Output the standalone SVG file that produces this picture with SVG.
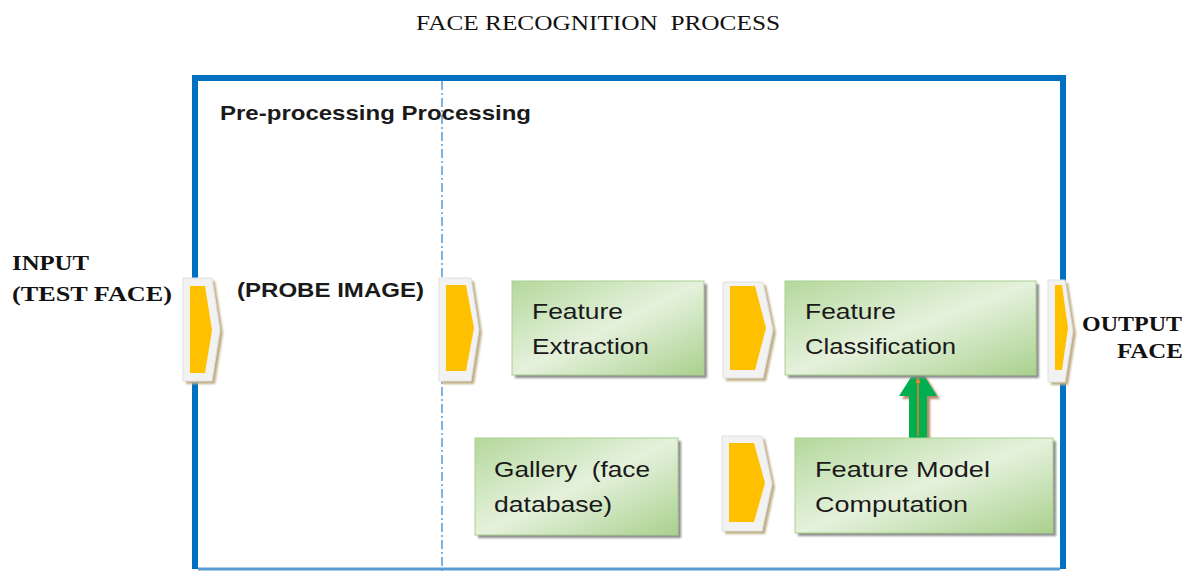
<svg xmlns="http://www.w3.org/2000/svg" width="1185" height="572" viewBox="0 0 1185 572">
<defs>
<linearGradient id="g" x1="0" y1="0" x2="1" y2="1">
<stop offset="0" stop-color="#B4D89C"/>
<stop offset="0.5" stop-color="#E5F1DC"/>
<stop offset="1" stop-color="#A9D18E"/>
</linearGradient>
<filter id="sh" x="-10%" y="-10%" width="130%" height="130%">
<feGaussianBlur stdDeviation="1"/>
</filter>
<style>
text{white-space:pre}
.box{fill:url(#g);stroke:#A9D08E;stroke-width:1}
.bsh{fill:#8C8C8C;filter:url(#sh)}
.cout{fill:#F2F2F2;stroke:#E0E0E0;stroke-width:1}
.csh{fill:#BFAE85;filter:url(#sh)}
.cin{fill:#FFC000}
.lbl{font-family:"Liberation Sans",Arial,sans-serif;font-size:22px;fill:#1a1a1a}
.bold{font-family:"Liberation Sans",Arial,sans-serif;font-size:21px;font-weight:bold;fill:#1a1a1a}
.ser{font-family:"Liberation Serif","Times New Roman",serif;font-size:21px;font-weight:bold;fill:#111}
</style>
</defs>
<rect width="1185" height="572" fill="#fff"/>
<text x="598" y="30" text-anchor="middle" font-family="Liberation Serif,serif" font-size="20" fill="#111" textLength="364" lengthAdjust="spacingAndGlyphs">FACE RECOGNITION  PROCESS</text>

<g id="frame">
<path d="M195,569 V78 H1063 V569" fill="none" stroke="#0070C0" stroke-width="6"/>
<line x1="198" y1="569" x2="1060" y2="569" stroke="#5B9BD5" stroke-width="3"/>
<line x1="442" y1="81" x2="442" y2="572" stroke="#5B9BD5" stroke-width="1.5" stroke-dasharray="9,3,2,3"/>
<text x="220" y="120" class="bold" textLength="311" lengthAdjust="spacingAndGlyphs">Pre-processing Processing</text>
</g>

<g id="input">
<text x="12" y="270" class="ser" textLength="77" lengthAdjust="spacingAndGlyphs">INPUT</text>
<text x="12" y="301" class="ser" textLength="160" lengthAdjust="spacingAndGlyphs">(TEST FACE)</text>
</g>
<g id="probe">
<text x="237" y="297" class="bold" textLength="187" lengthAdjust="spacingAndGlyphs">(PROBE IMAGE)</text>
</g>
<g id="output">
<text x="1182" y="331" text-anchor="end" class="ser" textLength="100" lengthAdjust="spacingAndGlyphs">OUTPUT</text>
<text x="1183" y="358" text-anchor="end" class="ser" textLength="66" lengthAdjust="spacingAndGlyphs">FACE</text>
</g>

<g id="connectors">
<g id="chev1">
<polygon class="csh" points="186,281 215,281 223,333 215,384 186,384"/>
<polygon class="cout" points="183,278 212,278 220,330 212,381 183,381"/>
<polygon class="cin" points="190,286 205,286 212,330 205,373 190,373"/>
</g>
<g id="chev2">
<polygon class="csh" points="442,281 474,281 482,333 474,384 442,384"/>
<polygon class="cout" points="439,278 471,278 479,330 471,381 439,381"/>
<polygon class="cin" points="446,285 466,285 474,328 466,371 446,371"/>
</g>
<g id="chev3">
<polygon class="csh" points="726,285 766,285 776,333 766,381 726,381"/>
<polygon class="cout" points="723,282 763,282 773,330 763,378 723,378"/>
<polygon class="cin" points="730,286 755,286 766,328 755,370 730,370"/>
</g>
<g id="chev4">
<polygon class="csh" points="1051,283 1068,283 1076,334 1068,385 1051,385"/>
<polygon class="cout" points="1048,280 1065,280 1073,331 1065,382 1048,382"/>
<polygon class="cin" points="1055,285 1062,285 1068,328 1062,370 1055,370"/>
</g>
<g id="chev5">
<polygon class="csh" points="725,439 765,439 775,487 765,534 725,534"/>
<polygon class="cout" points="722,436 762,436 772,484 762,531 722,531"/>
<polygon class="cin" points="729,443 754,443 765,483 754,522 729,522"/>
</g>
<g id="uparrow">
<polygon points="921,369 940,399 930,399 930,443 912,443 912,399 902,399" fill="#B08A6A" filter="url(#sh)"/>
<polygon points="918,366 937,396 927,396 927,440 909,440 909,396 899,396" fill="#00B050"/>
<line x1="918" y1="380" x2="918" y2="436" stroke="#ED7D31" stroke-width="1.5"/>
<polygon points="918,376 915.5,383 920.5,383" fill="#ED7D31"/>
</g>
</g>

<g id="feature-extraction">
<rect class="bsh" x="515" y="284" width="192" height="94"/>
<rect class="box" x="512" y="281" width="192" height="94"/>
<text x="532" y="319" class="lbl" textLength="91" lengthAdjust="spacingAndGlyphs">Feature</text>
<text x="532" y="354" class="lbl" textLength="117" lengthAdjust="spacingAndGlyphs">Extraction</text>
</g>
<g id="feature-classification">
<rect class="bsh" x="788" y="284" width="251" height="94"/>
<rect class="box" x="785" y="281" width="251" height="94"/>
<text x="805" y="319" class="lbl" textLength="91" lengthAdjust="spacingAndGlyphs">Feature</text>
<text x="805" y="354" class="lbl" textLength="151" lengthAdjust="spacingAndGlyphs">Classification</text>
</g>
<g id="gallery">
<rect class="bsh" x="478" y="441" width="203" height="97"/>
<rect class="box" x="475" y="438" width="203" height="97"/>
<text x="494" y="477" class="lbl" textLength="156" lengthAdjust="spacingAndGlyphs">Gallery  (face</text>
<text x="494" y="512" class="lbl" textLength="118" lengthAdjust="spacingAndGlyphs">database)</text>
</g>
<g id="feature-model">
<rect class="bsh" x="798" y="441" width="258" height="95"/>
<rect class="box" x="795" y="438" width="258" height="95"/>
<text x="815" y="477" class="lbl" textLength="175" lengthAdjust="spacingAndGlyphs">Feature Model</text>
<text x="815" y="512" class="lbl" textLength="153" lengthAdjust="spacingAndGlyphs">Computation</text>
</g>
</svg>
